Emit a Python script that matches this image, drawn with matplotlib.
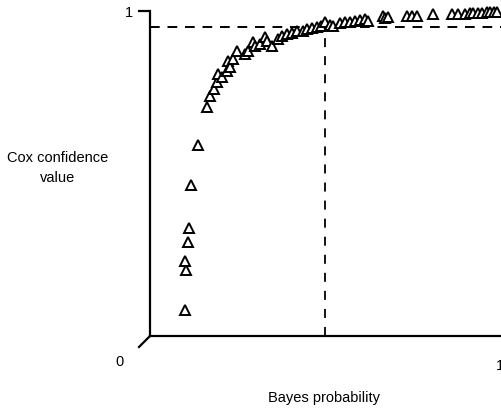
import matplotlib as mpl
mpl.use('Agg')
import matplotlib.pyplot as plt
from matplotlib.lines import Line2D

plt.rcParams['font.family'] = ['Liberation Sans', 'DejaVu Sans']

# Bayes probability vs Cox confidence value
bayes = [0.100, 0.103, 0.100, 0.109, 0.111, 0.117, 0.137, 0.163, 0.171, 0.183,
         0.191, 0.194, 0.206, 0.220, 0.223, 0.229, 0.237, 0.249, 0.271, 0.280,
         0.294, 0.300, 0.314, 0.329, 0.334, 0.349, 0.366, 0.377, 0.391, 0.406,
         0.420, 0.437, 0.449, 0.463, 0.477, 0.489, 0.500, 0.514, 0.523, 0.543,
         0.557, 0.571, 0.586, 0.600, 0.614, 0.623, 0.666, 0.671, 0.680, 0.734,
         0.749, 0.763, 0.809, 0.863, 0.880, 0.900, 0.914, 0.923, 0.937, 0.949,
         0.963, 0.971, 0.983, 0.991]
cox = [0.080, 0.203, 0.231, 0.289, 0.332, 0.465, 0.588, 0.705, 0.738, 0.760,
       0.782, 0.806, 0.797, 0.815, 0.846, 0.828, 0.852, 0.877, 0.868, 0.877,
       0.905, 0.892, 0.898, 0.920, 0.908, 0.892, 0.914, 0.923, 0.929, 0.932,
       0.938, 0.938, 0.945, 0.948, 0.951, 0.954, 0.966, 0.957, 0.954, 0.963,
       0.966, 0.966, 0.969, 0.972, 0.975, 0.969, 0.985, 0.978, 0.982, 0.985,
       0.985, 0.985, 0.991, 0.991, 0.991, 0.991, 0.994, 0.994, 0.994, 0.994,
       0.997, 0.997, 0.997, 0.997]

cox_cut = 0.95
bayes_cut = 0.5

W, H = 501, 410
fig = plt.figure(figsize=(W / 100, H / 100), dpi=100)
ax = fig.add_axes([150 / W, 1 - 337 / H, 351 / W, 325 / H])

ax.axhline(cox_cut, color='black', lw=1.4, ls=(0, (5, 4)), zorder=1)
ax.axvline(bayes_cut, color='black', lw=1.3, ls=(0, (5, 5)), zorder=1)
ax.plot(bayes, cox, ls='none', marker='^', ms=6.5, mfc='white', mec='black',
        mew=1.4, zorder=3, clip_on=False)

ax.set_xlim(0, 351 / 350)
ax.set_ylim(0, 1)
ax.spines['top'].set_visible(False)
ax.spines['right'].set_visible(False)
ax.spines['left'].set_linewidth(1.6)
ax.spines['bottom'].set_linewidth(1.6)

ax.set_yticks([1])
ax.set_yticklabels(['1'], fontsize=10.5)
ax.tick_params(axis='y', length=8.5, width=1.6, pad=4)
ax.set_xticks([1])
ax.set_xticklabels(['1'], fontsize=10.5)
ax.tick_params(axis='x', length=0, pad=16)

# broken corner at origin
fig.add_artist(Line2D([150 / W, 139 / W], [1 - 337 / H, 1 - 348 / H],
                      color='black', lw=1.6))
fig.text(119 / W, 1 - 362 / H, '0', fontsize=10.5, ha='center', va='center')

fig.text(58 / W, 1 - 168 / H, 'Cox confidence\nvalue', fontsize=10.5,
         ha='center', va='center', linespacing=1.6)
fig.text(324 / W, 1 - 398 / H, 'Bayes probability', fontsize=10.5,
         ha='center', va='center')

fig.savefig('out.png', dpi=100)
